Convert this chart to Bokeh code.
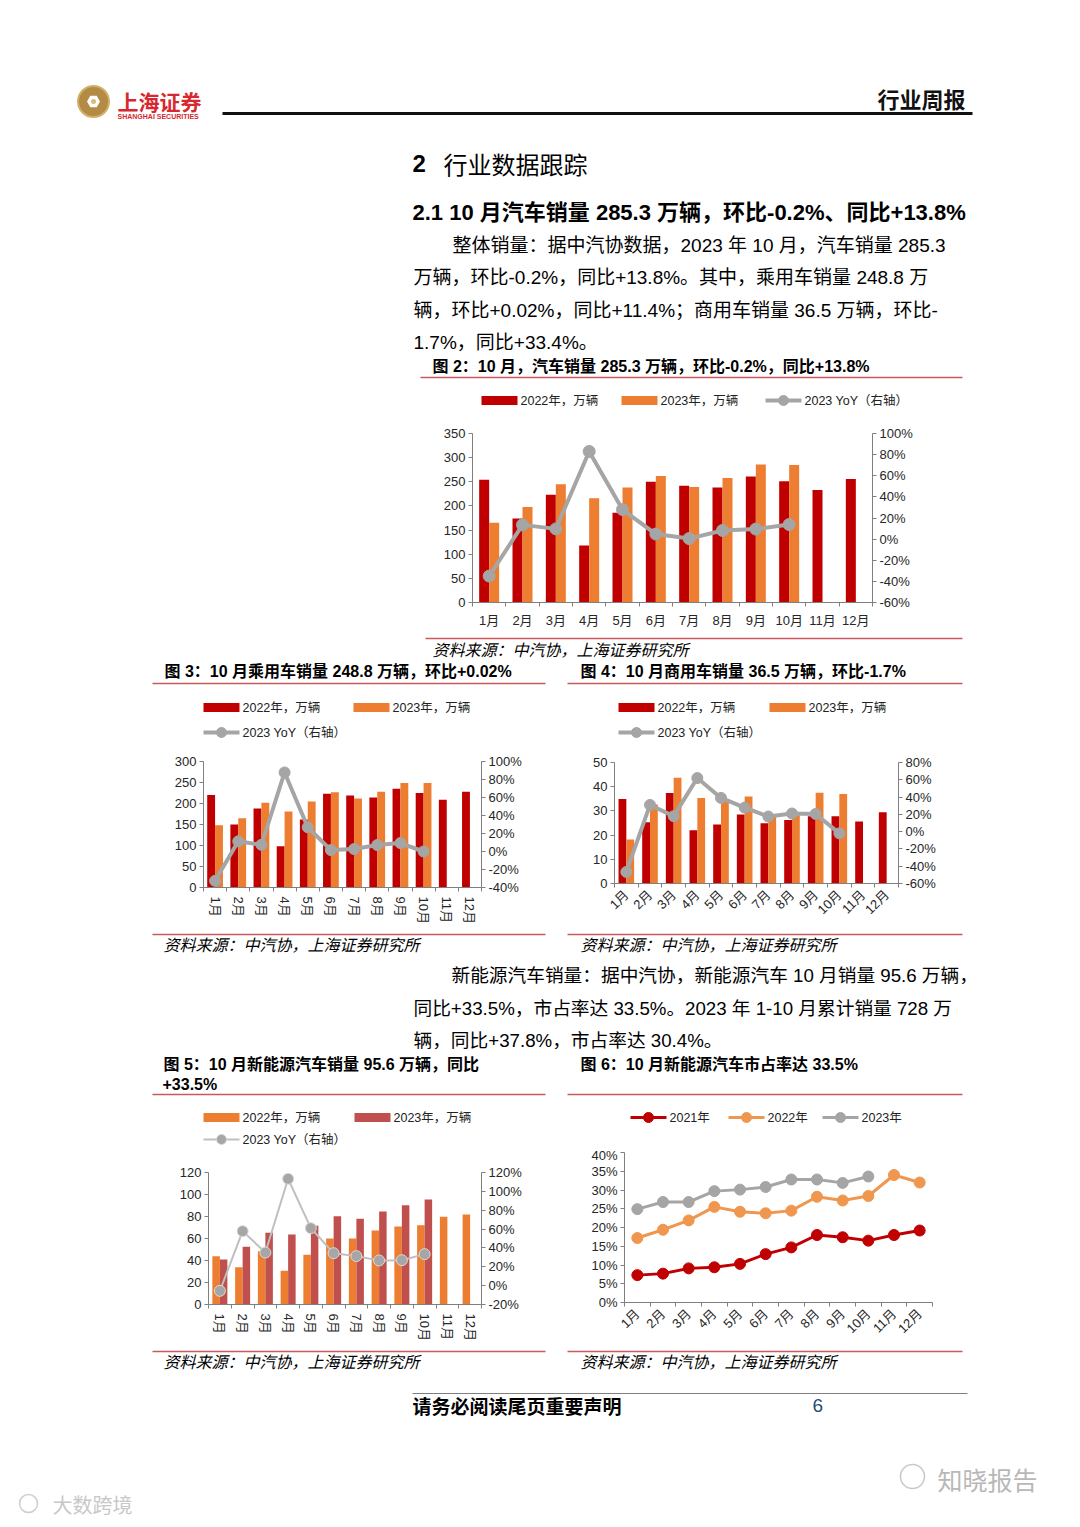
from bokeh.plotting import figure
from bokeh.models import (Range1d, LinearAxis, FixedTicker, PrintfTickFormatter, Spacer)
from bokeh.layouts import column, row
from bokeh.core.properties import value
from bokeh.embed import file_html
from bokeh.resources import INLINE

# ---------------- data ----------------
months = ["1月", "2月", "3月", "4月", "5月", "6月", "7月", "8月", "9月", "10月", "11月", "12月"]

total_2022 = [254, 174, 223, 118, 186, 250, 242, 238, 261, 251, 233, 256]
total_2023 = [165, 198, 245, 216, 238, 262, 239, 258, 286, 285]
total_yoy = [-35, 13.5, 9.7, 83, 28, 4.8, 0.5, 8.2, 9.5, 13.8]

pv_2022 = [220, 150, 188, 98, 162, 223, 219, 214, 235, 225, 209, 228]
pv_2023 = [148, 165, 202, 181, 205, 227, 212, 228, 249, 249]
pv_yoy = [-32.6, 11.3, 7.5, 87.8, 26.9, 1.6, 2.7, 7.2, 9.4, 0.0]

cv_2022 = [34.9, 25.3, 37.4, 22.0, 24.4, 28.5, 24.9, 26.2, 27.8, 27.8, 25.6, 29.4]
cv_2023 = [18.2, 32.6, 43.7, 35.3, 34.4, 36.0, 28.3, 29.0, 37.5, 37.0]
cv_yoy = [-46.6, 30.9, 17.9, 62.0, 39.0, 27.8, 17.5, 21.0, 20.5, -2.0]

nev_2022 = [43.9, 33.9, 48.4, 30.6, 45.2, 60.0, 60.0, 67.3, 70.9, 72.1, 79.7, 81.8]
nev_2023 = [40.9, 52.4, 65.2, 63.6, 71.7, 80.3, 77.9, 84.5, 90.3, 95.5]
nev_yoy = [-5.5, 57.8, 35.1, 113.3, 61.0, 34.4, 31.3, 26.7, 27.0, 33.4]

share_2021 = [7.3, 7.7, 9.1, 9.4, 10.3, 12.9, 14.7, 18.0, 17.4, 16.5, 18.0, 19.2]
share_2022 = [17.2, 19.4, 21.9, 25.5, 24.2, 23.8, 24.5, 28.2, 27.2, 28.4, 34.0, 32.0]
share_2023 = [24.9, 26.8, 26.8, 29.7, 30.1, 30.8, 32.8, 32.8, 31.9, 33.6]

# ---------------- style ----------------
F = "Liberation Sans, Noto Sans CJK SC"
RED = "#C00000"
ORANGE = "#ED7D31"
DRED = "#C0504D"
GRAY = "#A5A5A5"
SEP = "#C9595C"
W = 1064


def band(y0, y1):
    p = figure(width=W, height=y1 - y0, x_range=Range1d(0, W), y_range=Range1d(y1, y0),
               output_backend="svg", toolbar_location=None, min_border=0, title_location=None)
    p.axis.visible = False
    p.grid.visible = False
    p.outline_line_color = None
    return p


def T(p, x, y, s, size=12, style="normal", color="#000000", align="left", font=F):
    p.text(x=[x], y=[y], text=[s], text_font=value(font), text_font_size=f"{size}px",
           text_font_style=style, text_color=color, text_align=align, text_baseline="middle")


def hline(p, x0, x1, y, color=SEP, w=1.5):
    p.segment(x0=[x0], y0=[y], x1=[x1], y1=[y], line_color=color, line_width=w)


def leg_bar(p, x, y, color, label):
    p.quad(left=[x], right=[x + 36], top=[y - 4.5], bottom=[y + 4.5], fill_color=color, line_color=None)
    T(p, x + 39, y, label, 12.5, color="#222222")


def leg_line(p, x, y, color, label, lw=4, ms=10, fill=None, lc=None):
    p.line([x, x + 36], [y, y], line_color=color, line_width=lw)
    p.scatter([x + 18], [y], size=ms, fill_color=fill or color, line_color=lc or color)
    T(p, x + 39, y, label, 12.5, color="#222222")


SRC = "资料来源：中汽协，上海证券研究所"


def chart(width, height, left, right, top, bottom, ymax, ystep, rmin=None, rmax=None, rstep=20,
          rotate=None, pct_left=False):
    p = figure(width=width, height=height, x_range=Range1d(0.5, 12.5), y_range=Range1d(0, ymax),
               output_backend="svg", toolbar_location=None, title_location=None,
               min_border_left=left, min_border_right=right, min_border_top=top, min_border_bottom=bottom)
    p.grid.visible = False
    p.outline_line_color = None
    xs = list(range(1, 13))
    xa = p.xaxis[0]
    xa.ticker = FixedTicker(ticks=xs, minor_ticks=[i + 0.5 for i in range(0, 13)])
    xa.major_label_overrides = {float(i): m for i, m in zip(xs, months)}
    xa.major_tick_out = 0
    xa.major_tick_in = 0
    xa.minor_tick_out = 4
    xa.minor_tick_in = 0
    xa.major_label_standoff = 6
    if rotate is not None:
        xa.major_label_orientation = rotate
        xa.major_label_standoff = 5
    ya = p.yaxis[0]
    ya.ticker = FixedTicker(ticks=[i * ystep for i in range(int(round(ymax / ystep)) + 1)])
    ya.minor_tick_out = 0
    ya.minor_tick_in = 0
    ya.major_tick_out = 4
    ya.major_tick_in = 0
    ya.major_label_standoff = 3
    if pct_left:
        ya.formatter = PrintfTickFormatter(format="%d%%")
    axes = [xa, ya]
    if rmin is not None:
        p.extra_y_ranges = {"r": Range1d(rmin, rmax)}
        ra = LinearAxis(y_range_name="r")
        n = int(round((rmax - rmin) / rstep))
        ra.ticker = FixedTicker(ticks=[rmin + i * rstep for i in range(n + 1)])
        ra.formatter = PrintfTickFormatter(format="%d%%")
        ra.minor_tick_out = 0
        ra.minor_tick_in = 0
        ra.major_tick_out = 4
        ra.major_tick_in = 0
        ra.major_label_standoff = 3
        p.add_layout(ra, "right")
        axes.append(ra)
    for a in axes:
        a.axis_line_color = "#7F7F7F"
        a.major_tick_line_color = "#7F7F7F"
        a.minor_tick_line_color = "#7F7F7F"
        a.major_label_text_font = F
        a.major_label_text_font_size = "13px"
        a.major_label_text_color = "#262626"
    return p


def bars(p, a, b, ca, cb, w, off):
    p.vbar(x=[i + 1 - off for i in range(len(a))], top=a, width=w, bottom=0, fill_color=ca, line_color=None)
    p.vbar(x=[i + 1 + off for i in range(len(b))], top=b, width=w, bottom=0, fill_color=cb, line_color=None)


def yoy(p, vals, lw=4, ms=11, color=GRAY, fill=GRAY, lc=GRAY):
    xs = [i + 1 for i in range(len(vals))]
    p.line(xs, vals, y_range_name="r", line_color=color, line_width=lw)
    p.scatter(xs, vals, y_range_name="r", size=ms, fill_color=fill, line_color=lc)


# ---------------- band A : header / text ----------------
A = band(0, 420)
A.scatter([93], [101], marker="circle", size=31, fill_color="#B38B45", line_color="#D2B06A", line_width=2)
A.scatter([93], [101], marker="hex", size=13, fill_color="#FFFFFF", line_color=None)
A.scatter([93], [101], marker="circle", size=5, fill_color="#D8BD7A", line_color=None)
T(A, 117, 100, "上海证券", 21, "bold", "#D7282F", font="Noto Sans CJK SC")
T(A, 117, 116, "SHANGHAI SECURITIES", 7, "bold", "#D7282F")
T(A, 965, 97, "行业周报", 22, "bold", "#111111", align="right", font="Noto Sans CJK SC")
hline(A, 222, 972, 113, "#111111", 3)
T(A, 412, 163, "2", 24, "bold")
T(A, 443, 163, "行业数据跟踪", 24, font="Noto Sans CJK SC")
T(A, 412, 212, "2.1  10 月汽车销量 285.3 万辆，环比-0.2%、同比+13.8%", 22, "bold")
T(A, 452, 245, "整体销量：据中汽协数据，2023 年 10 月，汽车销量 285.3", 19)
T(A, 413, 277, "万辆，环比-0.2%，同比+13.8%。其中，乘用车销量 248.8 万", 19)
T(A, 413, 310, "辆，环比+0.02%，同比+11.4%；商用车销量 36.5 万辆，环比-", 19)
T(A, 413, 342, "1.7%，同比+33.4%。", 19)
T(A, 432, 366, "图 2：10 月，汽车销量 285.3 万辆，环比-0.2%，同比+13.8%", 16, "bold")
hline(A, 420, 962, 377)
leg_bar(A, 481, 400, RED, "2022年，万辆")
leg_bar(A, 621, 400, ORANGE, "2023年，万辆")
leg_line(A, 765, 400, GRAY, "2023 YoY（右轴）")

# ---------------- band B : figure 2 ----------------
f2 = chart(560, 210, 60, 100, 13, 27, 350, 50, -60, 100, 20)
bars(f2, total_2022, total_2023, RED, ORANGE, 0.3, 0.15)
yoy(f2, total_yoy, lw=4, ms=12)
B = row(Spacer(width=412, height=210), column(f2))

# ---------------- band C ----------------
C = band(630, 750)
hline(C, 425, 962, 638)
T(C, 432, 650, SRC, 16, "italic")
T(C, 164, 671, "图 3：10 月乘用车销量 248.8 万辆，环比+0.02%", 16, "bold")
T(C, 580, 671, "图 4：10 月商用车销量 36.5 万辆，环比-1.7%", 16, "bold")
hline(C, 152, 545, 683)
hline(C, 567, 962, 683)
leg_bar(C, 203, 707, RED, "2022年，万辆")
leg_bar(C, 353, 707, ORANGE, "2023年，万辆")
leg_line(C, 203, 732, GRAY, "2023 YoY（右轴）")
leg_bar(C, 618, 707, RED, "2022年，万辆")
leg_bar(C, 769, 707, ORANGE, "2023年，万辆")
leg_line(C, 618, 732, GRAY, "2023 YoY（右轴）")

# ---------------- band D : figures 3 & 4 ----------------
f3 = chart(397, 178, 50, 69, 11, 41, 300, 50, -40, 100, 20, rotate="vertical")
bars(f3, pv_2022, pv_2023, RED, ORANGE, 0.34, 0.17)
yoy(f3, pv_yoy, lw=4, ms=11)
f4 = chart(400, 178, 54, 62, 12, 45, 50, 10, -60, 80, 20, rotate=0.785)
bars(f4, cv_2022, cv_2023, RED, ORANGE, 0.33, 0.165)
yoy(f4, cv_yoy, lw=4, ms=11)
D = row(Spacer(width=153, height=178), column(f3), Spacer(width=10, height=178), column(f4))

# ---------------- band E ----------------
E = band(928, 1147)
hline(E, 152, 545, 934)
hline(E, 567, 962, 934)
T(E, 163, 945, SRC, 16, "italic")
T(E, 580, 945, SRC, 16, "italic")
T(E, 451, 975, "新能源汽车销量：据中汽协，新能源汽车 10 月销量 95.6 万辆，", 18.7)
T(E, 413, 1008, "同比+33.5%，市占率达 33.5%。2023 年 1-10 月累计销量 728 万", 18.7)
T(E, 413, 1040, "辆，同比+37.8%，市占率达 30.4%。", 18.7)
T(E, 163, 1064, "图 5：10 月新能源汽车销量 95.6 万辆，同比", 16, "bold")
T(E, 162, 1084, "+33.5%", 16, "bold")
T(E, 580, 1064, "图 6：10 月新能源汽车市占率达 33.5%", 16, "bold")
hline(E, 152, 545, 1094)
hline(E, 567, 962, 1094)
leg_bar(E, 203, 1117, ORANGE, "2022年，万辆")
leg_bar(E, 354, 1117, DRED, "2023年，万辆")
leg_line(E, 203, 1139, "#BFBFBF", "2023 YoY（右轴）", lw=2, ms=10, fill="#A6A6A6", lc="#D9D9D9")
leg_line(E, 630, 1117, RED, "2021年", lw=3, ms=10)
leg_line(E, 728, 1117, "#F0974F", "2022年", lw=3, ms=10)
leg_line(E, 822, 1117, GRAY, "2023年", lw=3, ms=10)

# ---------------- band F : figures 5 & 6 ----------------
f5 = chart(397, 198, 55, 69, 25, 41, 120, 20, -20, 120, 20, rotate="vertical")
bars(f5, nev_2022, nev_2023, ORANGE, DRED, 0.33, 0.165)
yoy(f5, nev_yoy, lw=2, ms=11, color="#BFBFBF", fill="#A6A6A6", lc="#D9D9D9")

f6 = chart(400, 198, 64, 28, 5, 43, 40, 5, rotate=0.785, pct_left=True)
xs6 = list(range(1, 13))
for vals, col in [(share_2021, RED), (share_2022, "#F0974F"), (share_2023, GRAY)]:
    xv = xs6[:len(vals)]
    f6.line(xv, vals, line_color=col, line_width=3)
    f6.scatter(xv, vals, size=11, fill_color=col, line_color=col)
Fr = row(Spacer(width=153, height=198), column(f5), Spacer(width=10, height=198), column(f6))

# ---------------- band G : sources / footer ----------------
G = band(1345, 1519)
hline(G, 152, 545, 1351)
hline(G, 567, 962, 1351)
T(G, 163, 1362, SRC, 16, "italic")
T(G, 580, 1362, SRC, 16, "italic")
hline(G, 412, 967, 1393, "#7F7F7F", 1)
T(G, 412, 1405, "请务必阅读尾页重要声明", 19, "bold", font="Noto Sans CJK SC")
T(G, 812, 1405, "6", 19, color="#1F4E79")
T(G, 937, 1478, "知晓报告", 25, color="#B8B8B8", font="Noto Sans CJK SC")
G.scatter([912], [1476], marker="circle", size=24, fill_color=None, line_color="#C8C8C8", line_width=1.5)
T(G, 52, 1504, "大数跨境", 20, color="#C8C8C8", font="Noto Sans CJK SC")
G.scatter([28], [1503], marker="circle", size=18, fill_color=None, line_color="#CFCFCF", line_width=1.5)

layout = column(A, B, C, D, E, Fr, G)

open("out.html", "w").write(file_html(layout, INLINE))
